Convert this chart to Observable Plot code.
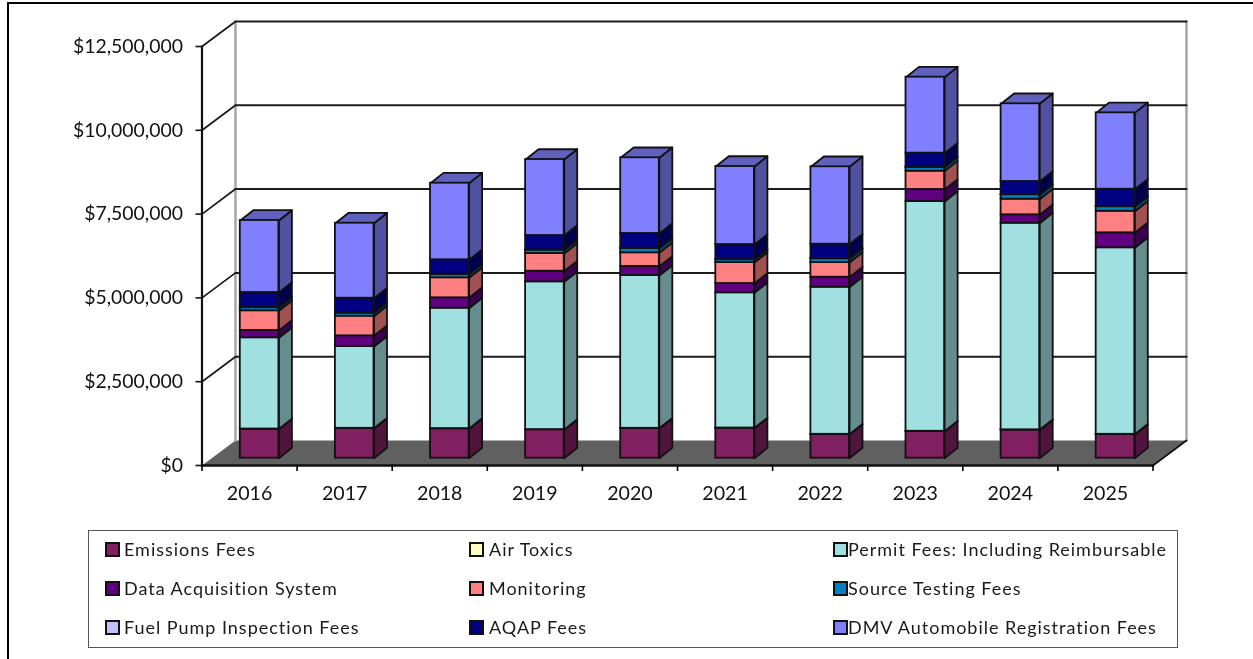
<!DOCTYPE html>
<html>
<head>
<meta charset="utf-8">
<script src="https://cdn.jsdelivr.net/npm/d3@7"></script>
<script src="https://cdn.jsdelivr.net/npm/@observablehq/plot@0.6"></script>
<style>
html,body{margin:0;padding:0;background:#fff;overflow:hidden;width:1253px;height:659px}
#frame{position:absolute;left:7px;top:2px;right:0;bottom:0;border-top:2px solid #000;border-left:2px solid #000;pointer-events:none}
#chart{position:absolute;left:0;top:0;filter:blur(.35px)}
#legend{position:absolute;left:88px;top:530px;width:1088px;height:116px;border:1.5px solid #555;box-sizing:content-box;font-family:Lato,sans-serif;font-size:18px;letter-spacing:.98px;color:#1a1a1a;filter:blur(.3px)}
.item{position:absolute;white-space:nowrap;line-height:20px}
.sw{position:absolute;top:3px;width:11px;height:11px;border:2px solid #111}
</style>
</head>
<body>
<div id="chart"></div>
<div id="legend"></div>
<div id="frame"></div>
<script>
const years = ["2016","2017","2018","2019","2020","2021","2022","2023","2024","2025"];
const seriesNames = ["Emissions Fees","Air Toxics","Permit Fees: Including Reimbursable","Data Acquisition System","Monitoring","Source Testing Fees","Fuel Pump Inspection Fees","AQAP Fees","DMV Automobile Registration Fees"];
const seriesColors = ["#802060","#FFFFC0","#A0E0E0","#600080","#FF8080","#0080C0","#C0C0FF","#000080","#8080FF"];
const emissions = [865000,886000,877000,847000,886000,895000,707000,797000,841000,707000];
const airToxics = [6000,6000,6000,6000,6000,6000,6000,6000,6000,6000];
const permit = [2721000,2440000,3592000,4409000,4559000,4033000,4388000,6856000,6164000,5564000];
const das = [218000,319000,310000,316000,268000,277000,298000,358000,251000,447000];
const monitoring = [588000,585000,597000,528000,409000,626000,439000,546000,465000,644000];
const sourceTesting = [92000,95000,101000,104000,131000,84000,113000,113000,134000,134000];
const fuelPump = [6000,6000,6000,6000,6000,6000,6000,6000,6000,6000];
const aqap = [447000,436000,430000,427000,439000,447000,427000,418000,388000,516000];
const dmv = [2148000,2237000,2285000,2267000,2258000,2327000,2309000,2267000,2318000,2279000];
const seriesValues = [emissions,airToxics,permit,das,monitoring,sourceTesting,fuelPump,aqap,dmv];
const yTicks = [0,2500000,5000000,7500000,10000000,12500000];

// 3-D box model, in data units
const wallX = 0.352, wallY = 746000;          // depth of the back wall
const barX = 0.4027, barW = 0.406;            // bar position inside its category slot
const barDepthX = 0.1367, barDepthY = 307000; // bar depth
const barBase = 218000;                       // bars stand part-way back on the floor

const shade = (c, k) => { const r = d3.rgb(c); return d3.rgb(r.r*k, r.g*k, r.b*k).formatHex(); };

const fronts = [], faces = [];
years.forEach((yr, i) => {
  let acc = barBase;
  const x1 = i + barX, x2 = x1 + barW;
  seriesNames.forEach((name, s) => {
    const v = seriesValues[s][i], y1 = acc, y2 = acc + v;
    fronts.push({year: yr, series: name, x1, x2, y1, y2});
    const id = yr + "-" + s, fill = shade(seriesColors[s], 0.63);
    [[x2,y1],[x2+barDepthX,y1+barDepthY],[x2+barDepthX,y2+barDepthY],[x2,y2],[x2,y1]]
      .forEach(([x,y]) => faces.push({id, x, y, fill}));
    acc = y2;
  });
  const id = yr + "-top", fill = shade(seriesColors[8], 0.75);
  [[x1,acc],[x2,acc],[x2+barDepthX,acc+barDepthY],[x1+barDepthX,acc+barDepthY],[x1,acc]]
    .forEach(([x,y]) => faces.push({id, x, y, fill}));
});

const n = years.length;
const floor = [[0,0],[n,0],[n+wallX,wallY],[wallX,wallY],[0,0]].map(([x,y]) => ({x,y}));
const seg = (a,b) => [{x:a[0],y:a[1]},{x:b[0],y:b[1]}];
const gridTicks = yTicks.slice(1);
const boundaries = d3.range(0, n+1);
const centers = d3.range(0, n).map(i => i + 0.5);
const font = "Lato, sans-serif";

const plot = Plot.plot({
  width: 1253, height: 520,
  marginLeft: 201.5, marginRight: 100.5, marginTop: 46, marginBottom: 55,
  style: {fontFamily: font, background: "transparent", overflow: "visible"},
  x: {type: "linear", domain: [0, n]},
  y: {type: "linear", domain: [0, 12500000], label: null},
  color: {domain: seriesNames, range: seriesColors},
  marks: [
    Plot.line(floor, {x:"x", y:"y", fill:"#606060", stroke:"none"}),
    // back wall edges
    Plot.line(seg([wallX,wallY],[wallX,12500000+wallY]), {x:"x", y:"y", stroke:"#a6a6a6", strokeWidth:2.5}),
    Plot.line(seg([n+wallX,wallY],[n+wallX,12500000+wallY]), {x:"x", y:"y", stroke:"#a6a6a6", strokeWidth:2.5}),
    // gridlines on the back wall and side wall
    ...gridTicks.map(t => Plot.line(seg([wallX,t+wallY],[n+wallX,t+wallY]), {x:"x", y:"y", stroke:"#1c1c1c", strokeWidth:2})),
    ...gridTicks.map(t => Plot.line(seg([0,t],[wallX,t+wallY]), {x:"x", y:"y", stroke:"#1c1c1c", strokeWidth:1.8})),
    Plot.line(seg([0,0],[0,12500000]), {x:"x", y:"y", stroke:"#111", strokeWidth:2.2}),
    Plot.line(seg([0,0],[n,0]), {x:"x", y:"y", stroke:"#111", strokeWidth:2.4}),
    Plot.line(seg([n,0],[n+wallX,wallY]), {x:"x", y:"y", stroke:"#111", strokeWidth:1.8}),
    // bars
    Plot.line(faces, {x:"x", y:"y", z:"id", fill:{value:"fill", scale:null}, stroke:"#111", strokeWidth:1.8, strokeLinejoin:"round"}),
    Plot.rect(fronts, {x1:"x1", x2:"x2", y1:"y1", y2:"y2", fill:"series", stroke:"#111", strokeWidth:1.8}),
    // axes
    Plot.axisY({ticks: yTicks, tickFormat: d3.format("$,"), tickSize: 6, tickPadding: 13, fontSize: 19.4, label: null, strokeWidth: 1.6, color:"#111"}),
    Plot.axisX({ticks: boundaries, tickFormat: () => "", tickSize: 6, strokeWidth: 1.6, label: null}),
    Plot.axisX({ticks: centers, tickFormat: d => years[Math.floor(d)], tickSize: 0, tickPadding: 21, fontSize: 19.6, label: null, color:"#111"})
  ]
});
document.getElementById("chart").appendChild(plot);

// legend below the chart, three rows of three
const colX = [16, 380, 744], textGap = [19, 20, 15];
const legend = document.getElementById("legend");
seriesNames.forEach((name, k) => {
  const c = k % 3, r = Math.floor(k / 3);
  const el = document.createElement("div");
  el.className = "item";
  el.style.left = colX[c] + "px";
  el.style.top = (8 + r * 39) + "px";
  const sw = document.createElement("span");
  sw.className = "sw";
  sw.style.background = seriesColors[k];
  const tx = document.createElement("span");
  tx.textContent = name;
  tx.style.marginLeft = textGap[c] + "px";
  el.append(sw, tx);
  legend.appendChild(el);
});
</script>
</body>
</html>
